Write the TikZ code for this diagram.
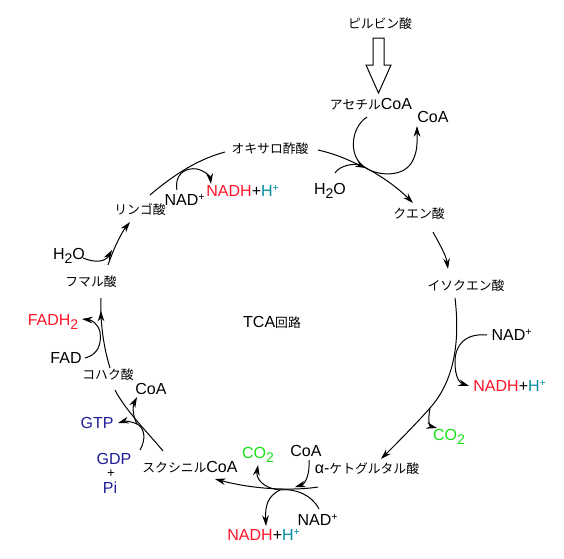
\documentclass[tikz,border=0pt]{standalone}
\usepackage{fontspec}
\setmainfont{Liberation Sans}
\newfontfamily\jpf{Noto Sans CJK JP}
\usetikzlibrary{arrows.meta,decorations.markings,calc}
\definecolor{nadh}{RGB}{255,20,40}
\definecolor{hion}{RGB}{0,140,160}
\definecolor{co2c}{RGB}{20,225,20}
\definecolor{gtpc}{RGB}{30,30,150}
\newcommand\jtext[1]{{\jpf\fontsize{9.6}{11}\selectfont #1}}
\newcommand\subtwo{\raisebox{-3.5pt}{\fontsize{10.5}{10}\selectfont 2}}
\newcommand\nadhh{\textcolor{nadh}{NADH}+\textcolor{hion}{H\textsuperscript{+}}}
\begin{document}
\begin{tikzpicture}[x=0.75pt,y=-0.75pt,
  jp/.style={font=\jpf\fontsize{9.6}{11}\selectfont, inner sep=0pt},
  lt/.style={font=\fontsize{12}{14}\selectfont, inner sep=0pt},
  rx/.style={line width=0.75pt},
  ar/.style={rx,-{Stealth[length=8pt,width=5pt]}},
  midar/.style={rx,postaction={decorate},decoration={markings,mark=at position #1 with {\arrow{Stealth[length=8pt,width=5pt]}}}}
  ]
\useasboundingbox (0,0) rectangle (564,558);
% labels
\node[jp] (pyr) at (380,24) {ピルビン酸};
\node[lt] (acoa) at (371,104) {\jtext{アセチル}CoA};
\node[lt] (coaA) at (433,117) {CoA};
\node[jp] (oaa) at (270,149) {オキサロ酢酸};
\node[lt] (h2oA) at (330,191) {H\subtwo O};
\node[jp] (cit) at (419,214) {クエン酸};
\node[jp] (icit) at (466,286) {イソクエン酸};
\node[lt] (nadR) at (512,335) {NAD\textsuperscript{+}};
\node[lt] (nadhR) at (510,386) {\nadhh};
\node[lt] (co2R) at (449,437) {\textcolor{co2c}{CO\subtwo}};
\node[lt] (akg) at (367,469) {α-\jtext{ケトグルタル酸}};
\node[lt] (coaB) at (306,451) {CoA};
\node[lt] (co2B) at (258,455) {\textcolor{co2c}{CO\subtwo}};
\node[lt] (nadB) at (318,520) {NAD\textsuperscript{+}};
\node[lt] (nadhB) at (264,535) {\nadhh};
\node[lt] (scoa) at (190,467) {\jtext{スクシニル}CoA};
\node[lt,text=gtpc] (gdp) at (114,459) {GDP};
\node[inner sep=0pt,font=\fontsize{10}{10}\selectfont] (plus) at (111,474) {+};
\node[lt,text=gtpc] (pi) at (110,488) {Pi};
\node[lt,text=gtpc] (gtp) at (97,423) {GTP};
\node[lt] (coaC) at (151,389) {CoA};
\node[jp] (succ) at (108,375) {コハク酸};
\node[lt] (fad) at (66,358) {FAD};
\node[lt,text=nadh] (fadh) at (53,322) {FADH\subtwo};
\node[jp] (fum) at (91,282) {フマル酸};
\node[lt] (h2oB) at (69,256) {H\subtwo O};
\node[jp] (mal) at (140,210) {リンゴ酸};
\node[lt] (nadT) at (185,200) {NAD\textsuperscript{+}};
\node[lt] (nadhT) at (243,191) {\nadhh};
\node[lt] (tca) at (272,322) {TCA\jtext{回路}};
% pyruvate -> acetyl-CoA (hollow arrow)
\draw[rx,fill=white] (373,38) -- (384,38) -- (384,65) -- (391,65) -- (378.5,93) -- (366,65) -- (373,65) -- cycle;
% junctions
\coordinate (j1) at (366,168);
\coordinate (j2) at (430,408);
\coordinate (j3) at (280,490);
\coordinate (j3b) at (295,487);
\coordinate (j4) at (137,424);
% oxaloacetate -> citrate
\draw[ar] ($(oaa)+(48,1)$) .. controls (340,155) and (352,162) .. (j1) .. controls (385,178) and (400,190) .. ($(cit)+(-6,-11)$);
\draw[ar] ($(acoa)+(-4,13)$) .. controls (350,128) and (348,158) .. (j1) .. controls (378,176) and (405,178) .. (413,160) .. controls (418,150) and (417,140) .. ($(coaA)+(-16,9)$);
\draw[ar] ($(h2oA)+(5,-18)$) .. controls (340,165) and (355,163) .. (j1);
% citrate -> isocitrate
\draw[ar] ($(cit)+(14,18)$) .. controls (440,245) and (446,255) .. ($(icit)+(-18,-17)$);
% isocitrate -> alpha-KG
\draw[ar] ($(icit)+(-11,12)$) .. controls (460,340) and (455,380) .. (j2) .. controls (415,425) and (395,445) .. ($(akg)+(14,-10)$);
\draw[ar] ($(nadR)+(-25,0)$) .. controls (465,333) and (455,345) .. (455,362) .. controls (455,378) and (460,383) .. ($(nadhR)+(-41,0)$);
\draw[ar] (j2) .. controls (428,418) and (429,426) .. ($(co2R)+(-12,-9)$);
% alpha-KG -> succinyl-CoA
\draw[ar] ($(akg)+(-49,18)$) .. controls (300,490) and (260,491) .. ($(scoa)+(25,12)$);
\draw[ar] ($(coaB)+(3,9)$) .. controls (310,475) and (305,484) .. (j3b);
\draw[ar] (j3) .. controls (262,488) and (256,478) .. ($(co2B)+(0,10)$);
\draw[ar] ($(nadB)+(1,-11)$) .. controls (312,495) and (295,488) .. (j3) .. controls (268,496) and (265,505) .. ($(nadhB)+(2,-9)$);
% succinyl-CoA -> succinate
\draw[rx] ($(scoa)+(-27,-16)$) .. controls (150,435) and (125,410) .. ($(succ)+(7,15)$);
\draw[ar] ($(gdp)+(26,-9)$) .. controls (146,440) and (145,428) .. (j4) .. controls (130,421) and (125,421) .. ($(gtp)+(21,0)$);
\draw[ar] (j4) .. controls (132,415) and (133,405) .. ($(coaC)+(-14,8)$);
% succinate -> fumarate
\draw[midar=0.82] ($(succ)+(2,-7)$) .. controls (103,345) and (100,320) .. ($(fum)+(10,16)$);
\draw[ar] ($(fad)+(19,0)$) .. controls (97,355) and (102,345) .. (100,332) .. controls (98,324) and (92,320) .. ($(fadh)+(29,-3)$);
% fumarate -> malate
\draw[ar] ($(fum)+(17,-17)$) .. controls (115,245) and (122,232) .. ($(mal)+(-10,12)$);
\draw[ar] ($(h2oB)+(14,2)$) .. controls (95,263) and (105,262) .. (112,250);
% malate -> oxaloacetate
\draw[rx] ($(mal)+(10,-15)$) .. controls (170,178) and (195,160) .. ($(oaa)+(-45,3)$);
\draw[ar] ($(nadT)+(-8,-10)$) .. controls (174,175) and (185,167) .. (197,169) .. controls (205,171) and (210,176) .. ($(nadhT)+(-32,-7)$);
\end{tikzpicture}
\end{document}
